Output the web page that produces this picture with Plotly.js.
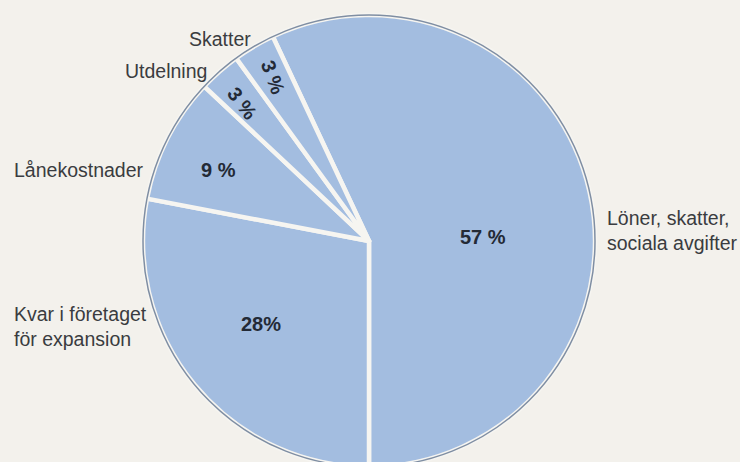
<!DOCTYPE html>
<html>
<head>
<meta charset="utf-8">
<script src="https://cdn.plot.ly/plotly-3.0.1.min.js"></script>
<style>
html,body{margin:0;padding:0;background:#f3f1ec;overflow:hidden;}
#chart{width:740px;height:480px;}
</style>
</head>
<body>
<div id="chart"></div>
<script>
// Data
const categories = ["Löner, skatter,<br>sociala avgifter", "Kvar i företaget<br>för expansion", "Lånekostnader", "Utdelning", "Skatter"];
const values = [57, 28, 9, 3, 3];
const percentLabels = ["57 %", "28%", "9 %", "3 %", "3 %"];

const W = 740, H = 480;
const cx = 369, cy = 241, R = 226;
const px = x => x / W;
const py = y => 1 - y / H;

const fill = "#a3bde0";
const trace = {
  type: "pie",
  values: values,
  labels: categories,
  sort: false,
  direction: "clockwise",
  rotation: -25.2,
  textinfo: "none",
  hoverinfo: "label+value",
  marker: { colors: values.map(() => fill), line: { color: "#f6f5f1", width: 4.5 } },
  domain: { x: [px(cx - R), px(cx + R)], y: [py(cy + R), py(cy - R)] },
  showlegend: false
};

const labelFont = { family: "Liberation Sans, Arial, sans-serif", size: 19.5, color: "#3a3c40" };
const pctFont = { family: "Liberation Sans, Arial, sans-serif", size: 20, color: "#232a36" };

// outside label positions (layout only)
const outPos = [
  { x: 605, y: 231, xanchor: "left" },
  { x: 12, y: 326, xanchor: "left" },
  { x: 146, y: 170, xanchor: "right" },
  { x: 209, y: 71, xanchor: "right" },
  { x: 253, y: 39, xanchor: "right" }
];
const inPos = [
  { x: 483, y: 237, a: 0 },
  { x: 261, y: 324, a: 0 },
  { x: 218, y: 170, a: 0 },
  { x: 242, y: 103, a: 53 },
  { x: 273, y: 77, a: 70 }
];

const annotations = [];
categories.forEach((c, i) => {
  annotations.push({
    text: c, xref: "paper", yref: "paper", x: px(outPos[i].x), y: py(outPos[i].y),
    xanchor: outPos[i].xanchor, yanchor: "middle", align: "left", showarrow: false, font: labelFont
  });
  annotations.push({
    text: "<b>" + percentLabels[i] + "</b>", xref: "paper", yref: "paper",
    x: px(inPos[i].x), y: py(inPos[i].y), xanchor: "center", yanchor: "middle",
    textangle: inPos[i].a, showarrow: false, font: pctFont
  });
});

const layout = {
  width: W, height: H,
  margin: { l: 0, r: 0, t: 0, b: 0 },
  paper_bgcolor: "#f3f1ec",
  plot_bgcolor: "#f3f1ec",
  annotations: annotations,
  shapes: [{
    type: "circle", xref: "paper", yref: "paper", layer: "above",
    x0: px(cx - R), x1: px(cx + R), y0: py(cy + R), y1: py(cy - R),
    line: { color: "#7f8ea3", width: 1.5 }
  }]
};

Plotly.newPlot("chart", [trace], layout, { displayModeBar: false, staticPlot: true });
</script>
</body>
</html>
